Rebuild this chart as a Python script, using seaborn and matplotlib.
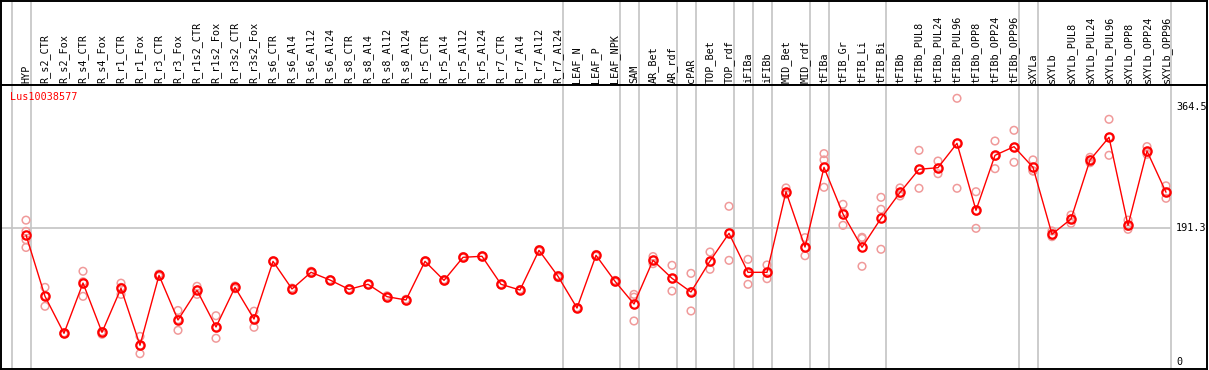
# Expression profile of Lus10038577 across flax tissues / treatments
import numpy as np
import pandas as pd
from matplotlib import pyplot as plt
import seaborn as sns

# sample names, left to right
samples = [
    "HYP", "R_s2_CTR", "R_s2_Fox", "R_s4_CTR", "R_s4_Fox", "R_r1_CTR", "R_r1_Fox",
    "R_r3_CTR", "R_r3_Fox", "R_r1s2_CTR", "R_r1s2_Fox", "R_r3s2_CTR", "R_r3s2_Fox",
    "R_s6_CTR", "R_s6_Al4", "R_s6_Al12", "R_s6_Al24", "R_s8_CTR", "R_s8_Al4",
    "R_s8_Al12", "R_s8_Al24", "R_r5_CTR", "R_r5_Al4", "R_r5_Al12", "R_r5_Al24",
    "R_r7_CTR", "R_r7_Al4", "R_r7_Al12", "R_r7_Al24", "LEAF_N", "LEAF_P", "LEAF_NPK",
    "SAM", "AR_Bet", "AR_rdf", "cPAR", "TOP_Bet", "TOP_rdf", "iFIBa", "iFIBb",
    "MID_Bet", "MID_rdf", "tFIBa", "tFIB_Gr", "tFIB_Li", "tFIB_Bi", "tFIBb",
    "tFIBb_PUL8", "tFIBb_PUL24", "tFIBb_PUL96", "tFIBb_OPP8", "tFIBb_OPP24",
    "tFIBb_OPP96", "sXYLa", "sXYLb", "sXYLb_PUL8", "sXYLb_PUL24", "sXYLb_PUL96",
    "sXYLb_OPP8", "sXYLb_OPP24", "sXYLb_OPP96",
]

# mean expression per sample
means = [
    181.8, 94.2, 41.4, 113.2, 42.8, 105.7, 24.3, 124.2, 60.4, 102.8, 50.4, 107.1, 61.8,
    144.2, 104.7, 128.5, 117.5, 104.2, 111.4, 93.7, 89.0, 144.2, 117.0, 149.9, 151.4,
    111.4, 103.2, 159.9, 122.8, 77.5, 152.8, 115.7, 83.2, 145.6, 119.9, 100.4, 144.6,
    184.2, 128.5, 128.5, 243.6, 164.6, 278.4, 211.8, 164.2, 205.6, 242.5, 275.6, 277.9,
    312.7, 217.0, 295.6, 307.9, 278.4, 182.8, 204.6, 288.9, 321.3, 195.6, 301.7, 242.8,
]

# replicate values
rep_a = [
    203, 107, 42, 130, 44, 113, 37, 126, 74, 108.5, 66.5, 109, 73, 145, 106, 130, 118,
    105, 112, 95, 90, 145, 118, 151, 152, 112, 104, 161, 124, 78, 154, 117, 97, 151,
    138.5, 127, 157.5, 222.8, 147, 139, 249, 178, 298, 225.6, 178.5, 235.6, 249, 302.7,
    287.4, 377, 243.6, 316, 331.3, 289, 187.5, 210.3, 292.7, 347, 203, 308, 252,
]
rep_b = [
    187, 95, 41, 115, 43, 107, 24, 124, 61, 103, 50, 107, 62, 144, 104.5, 128.5, 117.5,
    104, 111, 93.5, 89, 144, 117, 150, 151.5, 111, 103, 160, 122.5, 77.5, 152.5, 115.5,
    93, 145.5, 119.5, 101, 143.5, 184.2, 127, 127, 240, 163.6, 289, 214, 177, 218.5, 241,
    275.6, 277, 312.6, 216, 294.3, 306.8, 273.6, 181.5, 205, 289, 321.3, 194, 300, 242.8,
]
rep_c = [
    175, 80, 41, 94.2, 40, 97, 12.3, 122.5, 45.7, 97, 34.3, 105, 50, 143.5, 103.5, 127,
    117, 103.5, 111, 92.5, 88, 143.5, 116, 149, 150.5, 111, 102.5, 158.5, 121, 77, 151.5,
    114.5, 59, 140.8, 101.8, 73.3, 132.8, 145.6, 111.4, 119.4, 241.3, 152.2, 249.9, 195.6,
    137.1, 161.4, 237.5, 248.5, 269.3, 248.5, 191.3, 276.5, 285.6, 273, 179.4, 198.5, 285,
    295.6, 189.9, 297, 234.2,
]
rep_d = [164] + [None] * (len(samples) - 1)

# group boundaries: separator drawn after these sample indices
group_ends = [-1, 0, 28, 31, 32, 34, 35, 37, 38, 39, 41, 42, 45, 52, 53, 60]
ytick_vals = [0, 191.3, 364.5]

# build the data frames
x = np.arange(len(samples))
df_mean = pd.DataFrame({"x": x, "value": means})
reps = []
for r in (rep_a, rep_b, rep_c, rep_d):
    for i, v in enumerate(r):
        if v is not None:
            reps.append({"x": i, "value": v})
df_reps = pd.DataFrame(reps)

sns.set_theme(style="white")
plt.rcParams["font.family"] = ["DejaVu Sans Mono", "DejaVu Sans"]

W, H = 1209, 370
fig = plt.figure(figsize=(W / 100, H / 100), dpi=100)

# px -> data mapping along x: px = 26 + 19 * i
x0, dx = 26, 19
xlim = ((1 - x0) / dx, (1207 - x0) / dx)

head = fig.add_axes([1 / W, (H - 85) / H, 1206 / W, 84.5 / H])
ax = fig.add_axes([1 / W, 1.5 / H, 1206 / W, 283.5 / H])

for a in (head, ax):
    a.set_xlim(*xlim)
    a.set_xticks([])
    a.set_yticks([])
    for s in a.spines.values():
        s.set_color("black")
        s.set_linewidth(1.4)
    for g in group_ends:
        a.axvline(g + 0.24, color="#c4c4c4", lw=1.2, zorder=0)

head.set_ylim(0, 1)
for i, name in enumerate(samples):
    head.text(i, 0.025, name, rotation=90, ha="center", va="bottom",
              fontsize=7.3, color="black")

ax.set_ylim((362.3 - 368.5) / 0.7003, (362.3 - 85) / 0.7003)
ax.axhline(191.3, xmin=0, xmax=(1170 - 1) / 1206, color="#c4c4c4", lw=1.2, zorder=0)

# replicates
sns.scatterplot(data=df_reps, x="x", y="value", ax=ax, marker="o", s=30,
                facecolors="none", edgecolors="#f09a9a", linewidth=1.1, zorder=2,
                legend=False)
# mean line
sns.lineplot(data=df_mean, x="x", y="value", ax=ax, color="red", lw=1.0,
             marker="o", markersize=6, markerfacecolor="none",
             markeredgecolor="red", markeredgewidth=1.6, zorder=3)
ax.set_xlabel("")
ax.set_ylabel("")

for v in ytick_vals:
    ax.text((1176 - x0) / dx, v, f"{v:g}", ha="left", va="center",
            fontsize=7.3, color="black")

ax.text((10 - x0) / dx, 1 - 12 / 283.5, "Lus10038577", transform=ax.get_xaxis_transform(),
        ha="left", va="center", fontsize=7.3, color="red")

fig.savefig("out.png", dpi=100)
